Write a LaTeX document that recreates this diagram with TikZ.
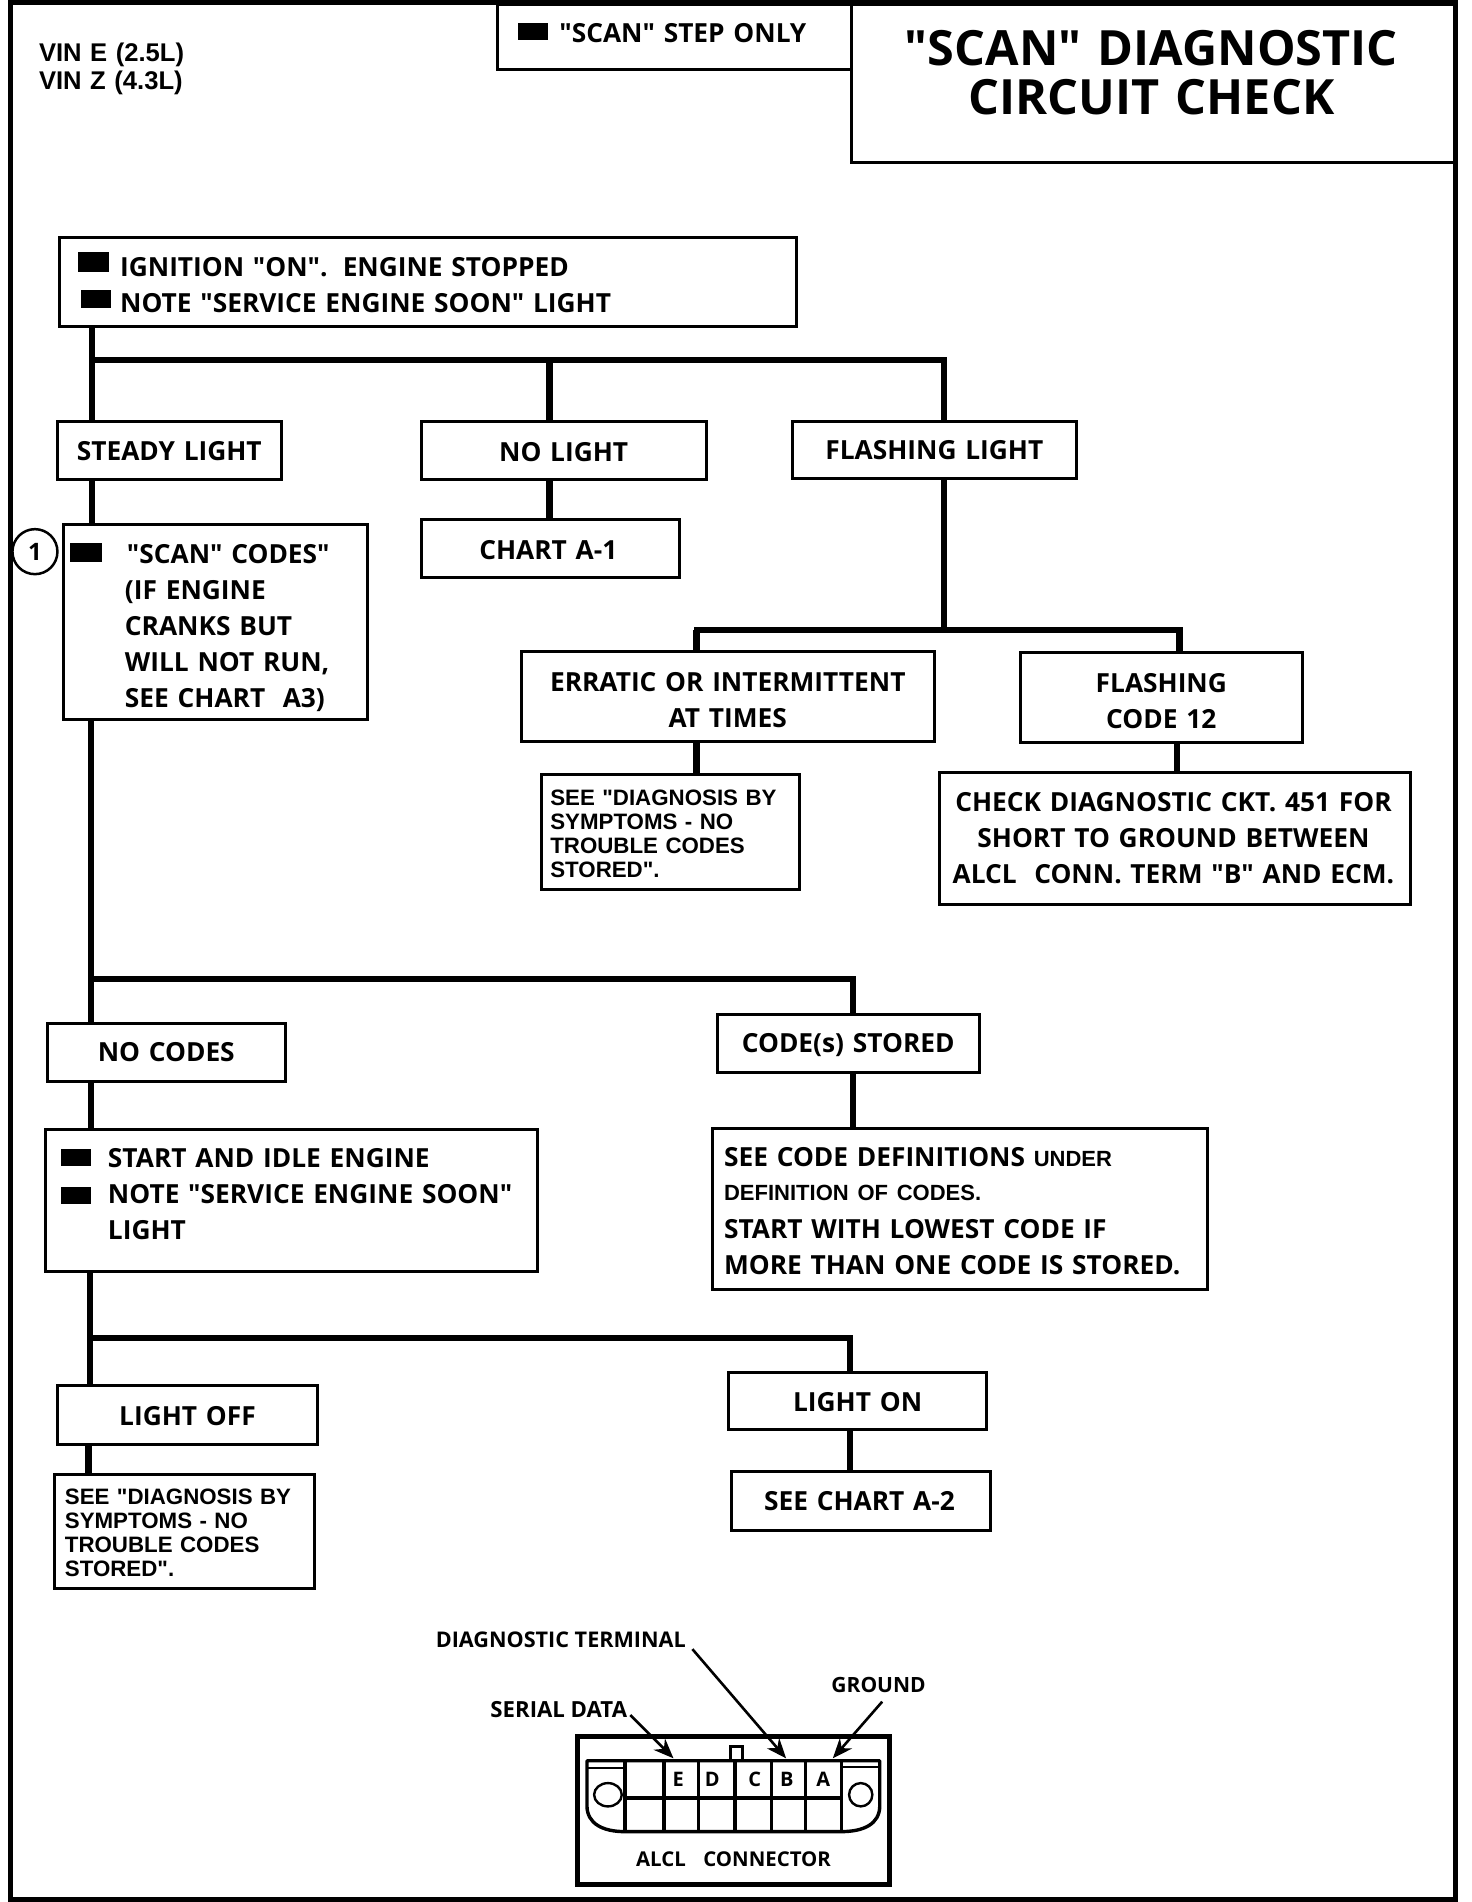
\documentclass[tikz,border=0pt]{standalone}
\usepackage{fontspec}
\usetikzlibrary{arrows.meta,calc}
\newfontfamily\mf{Open Sans}
\newfontfamily\af{Liberation Sans}
\tikzset{
  frame/.style={line width=5pt},
  box/.style={draw=black,line width=3pt,fill=white,inner xsep=0pt,inner ysep=0pt,outer sep=0pt},
  boxtxt/.style={font=\mf\bfseries\fontsize{26.3}{36}\selectfont},
  arialtxt/.style={font=\af\bfseries\fontsize{22.3}{24}\selectfont},
  smalltxt/.style={font=\mf\bfseries\fontsize{20}{22}\selectfont},
  conn/.style={line width=6.5pt,line cap=butt},
  bus/.style={line width=6pt,line cap=rect},
  lead/.style={line width=2.6pt,-{Stealth[length=20pt,width=16pt]}},
  grid/.style={line width=3.4pt},
  bulletbox/.style={fill=black,inner sep=0pt,outer sep=0pt}
}
% [opts]{name}{x1}{y1}{x2}{y2}{first baseline y}{pad}{text}
\newcommand{\bx}[9][]{%
  \pgfmathsetmacro\bxw{(#5-#3)*1.2135}%
  \pgfmathsetmacro\bxh{(#6-#4)*1.2135}%
  \pgfmathsetmacro\bxd{(#7-(#4+#6)/2)*1.2135*2}%
  \pgfmathsetmacro\bxup{max(\bxd,0)}%
  \pgfmathsetmacro\bxdn{max(-\bxd,0)}%
  \pgfmathsetmacro\bxtw{\bxw-2*#8*1.2135}%
  \node[box,boxtxt,align=center,minimum width=\bxw pt,minimum height=\bxh pt,text width=\bxtw pt,text height=\bxup pt,text depth=\bxdn pt,#1] (#2) at ({(#3+#5)/2},{(#4+#6)/2}) {#9};%
}
\newcommand{\bul}[5]{%
  \pgfmathsetmacro\bxw{(#4-#2)*1.2135}%
  \pgfmathsetmacro\bxh{(#5-#3)*1.2135}%
  \node[bulletbox,minimum width=\bxw pt,minimum height=\bxh pt] (#1) at ({(#2+#4)/2},{(#3+#5)/2}) {};%
}
\begin{document}
\begin{tikzpicture}[x=1.2135pt,y=-1.2135pt]
\useasboundingbox (0,0) rectangle (1213,1567.4);
\fill[white] (0,0) rectangle (1213,1567.4);
\draw[frame] (8.8,2) rectangle (1199.5,1565);

% header
\bx[align=left]{stepbox}{410}{4}{702}{57}{35}{51}{\mbox{"SCAN" STEP ONLY}}
\bul{bstep}{427}{19}{452}{33}
\bx[font=\mf\bfseries\fontsize{48.6}{49.5}\selectfont]{title}{702}{4}{1199}{134}{53.6}{3}{\hspace*{-4pt}"SCAN" DIAGNOSTIC\\\hspace*{-4pt}CIRCUIT CHECK}
\node[anchor=base west,text width=200pt,inner sep=0pt,align=left,font=\af\bfseries\fontsize{25.6}{27.5}\selectfont] (vin) at (32,51) {VIN E (2.5L)\\VIN Z (4.3L)};

% x positions of the trunks
\coordinate (xa) at (76,0);
\coordinate (xb) at (75,0);
\coordinate (xc) at (74,0);
\coordinate (xd) at (73,0);
\coordinate (xn) at (453,0);
\coordinate (xf) at (778,0);
\coordinate (xe) at (574,0);
\coordinate (xg) at (972,0);
\coordinate (xh) at (970,0);
\coordinate (xs) at (703,0);
\coordinate (xo) at (700.5,0);
\coordinate (ya) at (0,296.7);
\coordinate (yb) at (0,519);
\coordinate (yc) at (0,806.8);
\coordinate (yd) at (0,1103);

% boxes
\bx[align=left]{ign}{49}{195.5}{656}{268.8}{228}{50}{IGNITION "ON". \hspace{2pt}ENGINE STOPPED\\\mbox{NOTE "SERVICE ENGINE SOON" LIGHT}}
\bul{bi1}{64.5}{208}{90}{224}
\bul{bi2}{66.7}{239}{91.5}{254}
\bx{steady}{47}{347}{232}{395}{379.6}{3}{STEADY LIGHT}
\bx{nolight}{347}{347}{582}{395}{380}{3}{NO LIGHT}
\bx{charta1}{347}{428}{560}{476}{461}{3}{\hspace*{-4pt}CHART A-1}
\bx{flash}{653}{347}{887}{394}{379}{3}{FLASHING LIGHT}
\bx[align=left]{scan}{52}{432}{303}{593}{464}{51}{\hspace*{2pt}\mbox{"SCAN" CODES"}\\(IF ENGINE\\CRANKS BUT\\\mbox{WILL NOT RUN,}\\\mbox{SEE CHART \ A3)}}
\bul{bs}{57.7}{447.7}{83.8}{463}
\bx{erratic}{429.5}{537}{770}{611}{570}{3}{ERRATIC OR INTERMITTENT\\AT TIMES}
\bx{code12}{841}{538}{1073}{611.6}{570.8}{3}{FLASHING\\CODE 12}
\bx[align=left,arialtxt]{see1}{446}{638}{659}{733.4}{663.4}{7.5}{SEE "DIAGNOSIS BY\\SYMPTOMS - NO\\TROUBLE CODES\\STORED".}
\bx{check}{774}{636.7}{1162.5}{745}{669}{3}{\hspace*{-3pt}CHECK DIAGNOSTIC CKT. 451 FOR\\\hspace*{-3pt}SHORT TO GROUND BETWEEN\\\hspace*{-3pt}ALCL \ CONN. TERM "B" AND ECM.}
\bx{nocodes}{39}{843.5}{235}{891.5}{875}{3}{NO CODES}
\bx{stored}{591}{836}{807}{884}{867.5}{3}{CODE(s) STORED}
\bx[align=left]{start}{37.5}{931}{443}{1048}{962.2}{51.5}{START AND IDLE ENGINE\\\mbox{NOTE "SERVICE ENGINE SOON"}\\LIGHT}
\bul{bst1}{50.6}{947}{74.7}{961}
\bul{bst2}{50.6}{978.4}{74.7}{992.4}
\bx[align=left]{defs}{587}{930}{995}{1063}{961.4}{9.7}{\mbox{SEE CODE DEFINITIONS {\af\bfseries\fontsize{22}{24}\selectfont UNDER}}\\[-2.6pt]{\af\bfseries\fontsize{22}{24}\selectfont DEFINITION OF CODES.}\\[2.8pt]START WITH LOWEST CODE IF\\\mbox{MORE THAN ONE CODE IS STORED.}}
\bx{lightoff}{47}{1142}{262}{1190}{1175}{3}{LIGHT OFF}
\bx{lighton}{600.5}{1131}{813}{1178}{1163}{3}{LIGHT ON}
\bx[align=left,arialtxt]{see2}{45}{1215}{259}{1309}{1240}{8.5}{SEE "DIAGNOSIS BY\\SYMPTOMS - NO\\TROUBLE CODES\\STORED".}
\bx{charta2}{603}{1213}{816}{1261}{1245}{3}{\hspace*{-3pt}SEE CHART A-2}

% circled step number
\node[draw=black,circle,line width=2.5pt,fill=white,minimum size=45pt,inner sep=0pt,font=\mf\bfseries\fontsize{24}{30}\selectfont] (one) at (28.8,454.6) {1};

% connectors
\draw[conn] (ign.south -| xa) -- (steady.north -| xa);
\draw[conn] (steady.south -| xa) -- (scan.north -| xa);
\draw[conn] (scan.south -| xb) -- (nocodes.north -| xb);
\draw[conn] (nocodes.south -| xb) -- (start.north -| xb);
\draw[conn] (start.south -| xc) -- (lightoff.north -| xc);
\draw[conn] (lightoff.south -| xd) -- (see2.north -| xd);
\draw[bus] (xa |- ya) -- (xf |- ya);
\draw[conn] (xn |- ya) -- (nolight.north -| xn);
\draw[conn] (xf |- ya) -- (flash.north -| xf);
\draw[conn] (nolight.south -| xn) -- (charta1.north -| xn);
\draw[conn] (flash.south -| xf) -- (xf |- yb);
\draw[bus] (xe |- yb) -- (xg |- yb);
\draw[conn] (xe |- yb) -- (erratic.north -| xe);
\draw[conn] (xg |- yb) -- (code12.north -| xg);
\draw[conn] (erratic.south -| xe) -- (see1.north -| xe);
\draw[conn] (code12.south -| xh) -- (check.north -| xh);
\draw[bus] (xb |- yc) -- (xs |- yc);
\draw[conn] (xs |- yc) -- (stored.north -| xs);
\draw[conn] (stored.south -| xs) -- (defs.north -| xs);
\draw[bus] (xc |- yd) -- (xo |- yd);
\draw[conn] (xo |- yd) -- (lighton.north -| xo);
\draw[conn] (lighton.south -| xo) -- (charta2.north -| xo);

% ALCL connector
\bx[line width=5pt]{alcl}{476.3}{1431}{732.6}{1553}{1538.5}{3}{\fontsize{20.4}{22}\selectfont ALCL \ CONNECTOR}
\draw[line width=3.4pt,line join=round] (483.7,1451) -- (725,1451) -- (725,1488)
  .. controls (725,1503) and (712,1509.4) .. (693,1509.4) -- (515,1509.4)
  .. controls (497,1509.4) and (483.7,1503) .. (483.7,1488) -- cycle;
\foreach \gx in {515.2,547.2,575.7,605.6,635.9,663.8,693.4}
  \draw[grid] (\gx,1451) -- (\gx,1509.4);
\draw[grid] (515.2,1481.8) -- (693.4,1481.8);
\draw[line width=2.4pt] (484,1457) -- (515.2,1457);
\draw[line width=2.4pt] (693.4,1456) -- (725,1456);
\draw[line width=2.8pt] (601.8,1451) -- (601.8,1439.5) -- (611.8,1439.5) -- (611.8,1451);
\draw[line width=2.4pt] (501,1479) ellipse (11.4 and 9.6);
\draw[line width=2.4pt] (709.3,1479) ellipse (9.6 and 9.6);
\node[smalltxt] (pe) at (559,1466.5) {E};
\node[smalltxt] (pd) at (587,1466.5) {D};
\node[smalltxt] (pc) at (622,1466.5) {C};
\node[smalltxt] (pb) at (648.5,1466.5) {B};
\node[smalltxt] (pa) at (678.5,1466.5) {A};

\node[smalltxt,anchor=base west,inner sep=0pt,font=\mf\bfseries\fontsize{21.6}{22}\selectfont] (diagt) at (359,1358) {DIAGNOSTIC TERMINAL};
\node[smalltxt,anchor=base west,inner sep=0pt,font=\mf\bfseries\fontsize{22.2}{22}\selectfont] (serial) at (404,1415.5) {SERIAL DATA};
\node[smalltxt,anchor=base west,inner sep=0pt,font=\mf\bfseries\fontsize{21}{22}\selectfont] (gnd) at (685,1394.5) {GROUND};
\coordinate (sdiag) at (570.6,1359);
\coordinate (tdiag) at (647.8,1449);
\coordinate (sser) at (519.4,1413.3);
\coordinate (tser) at (555,1449);
\coordinate (sgnd) at (727,1402.3);
\coordinate (tgnd) at (686.3,1449);
\draw[lead] (sdiag) -- (tdiag);
\draw[lead] (sser) -- (tser);
\draw[lead] (sgnd) -- (tgnd);
\end{tikzpicture}
\end{document}
